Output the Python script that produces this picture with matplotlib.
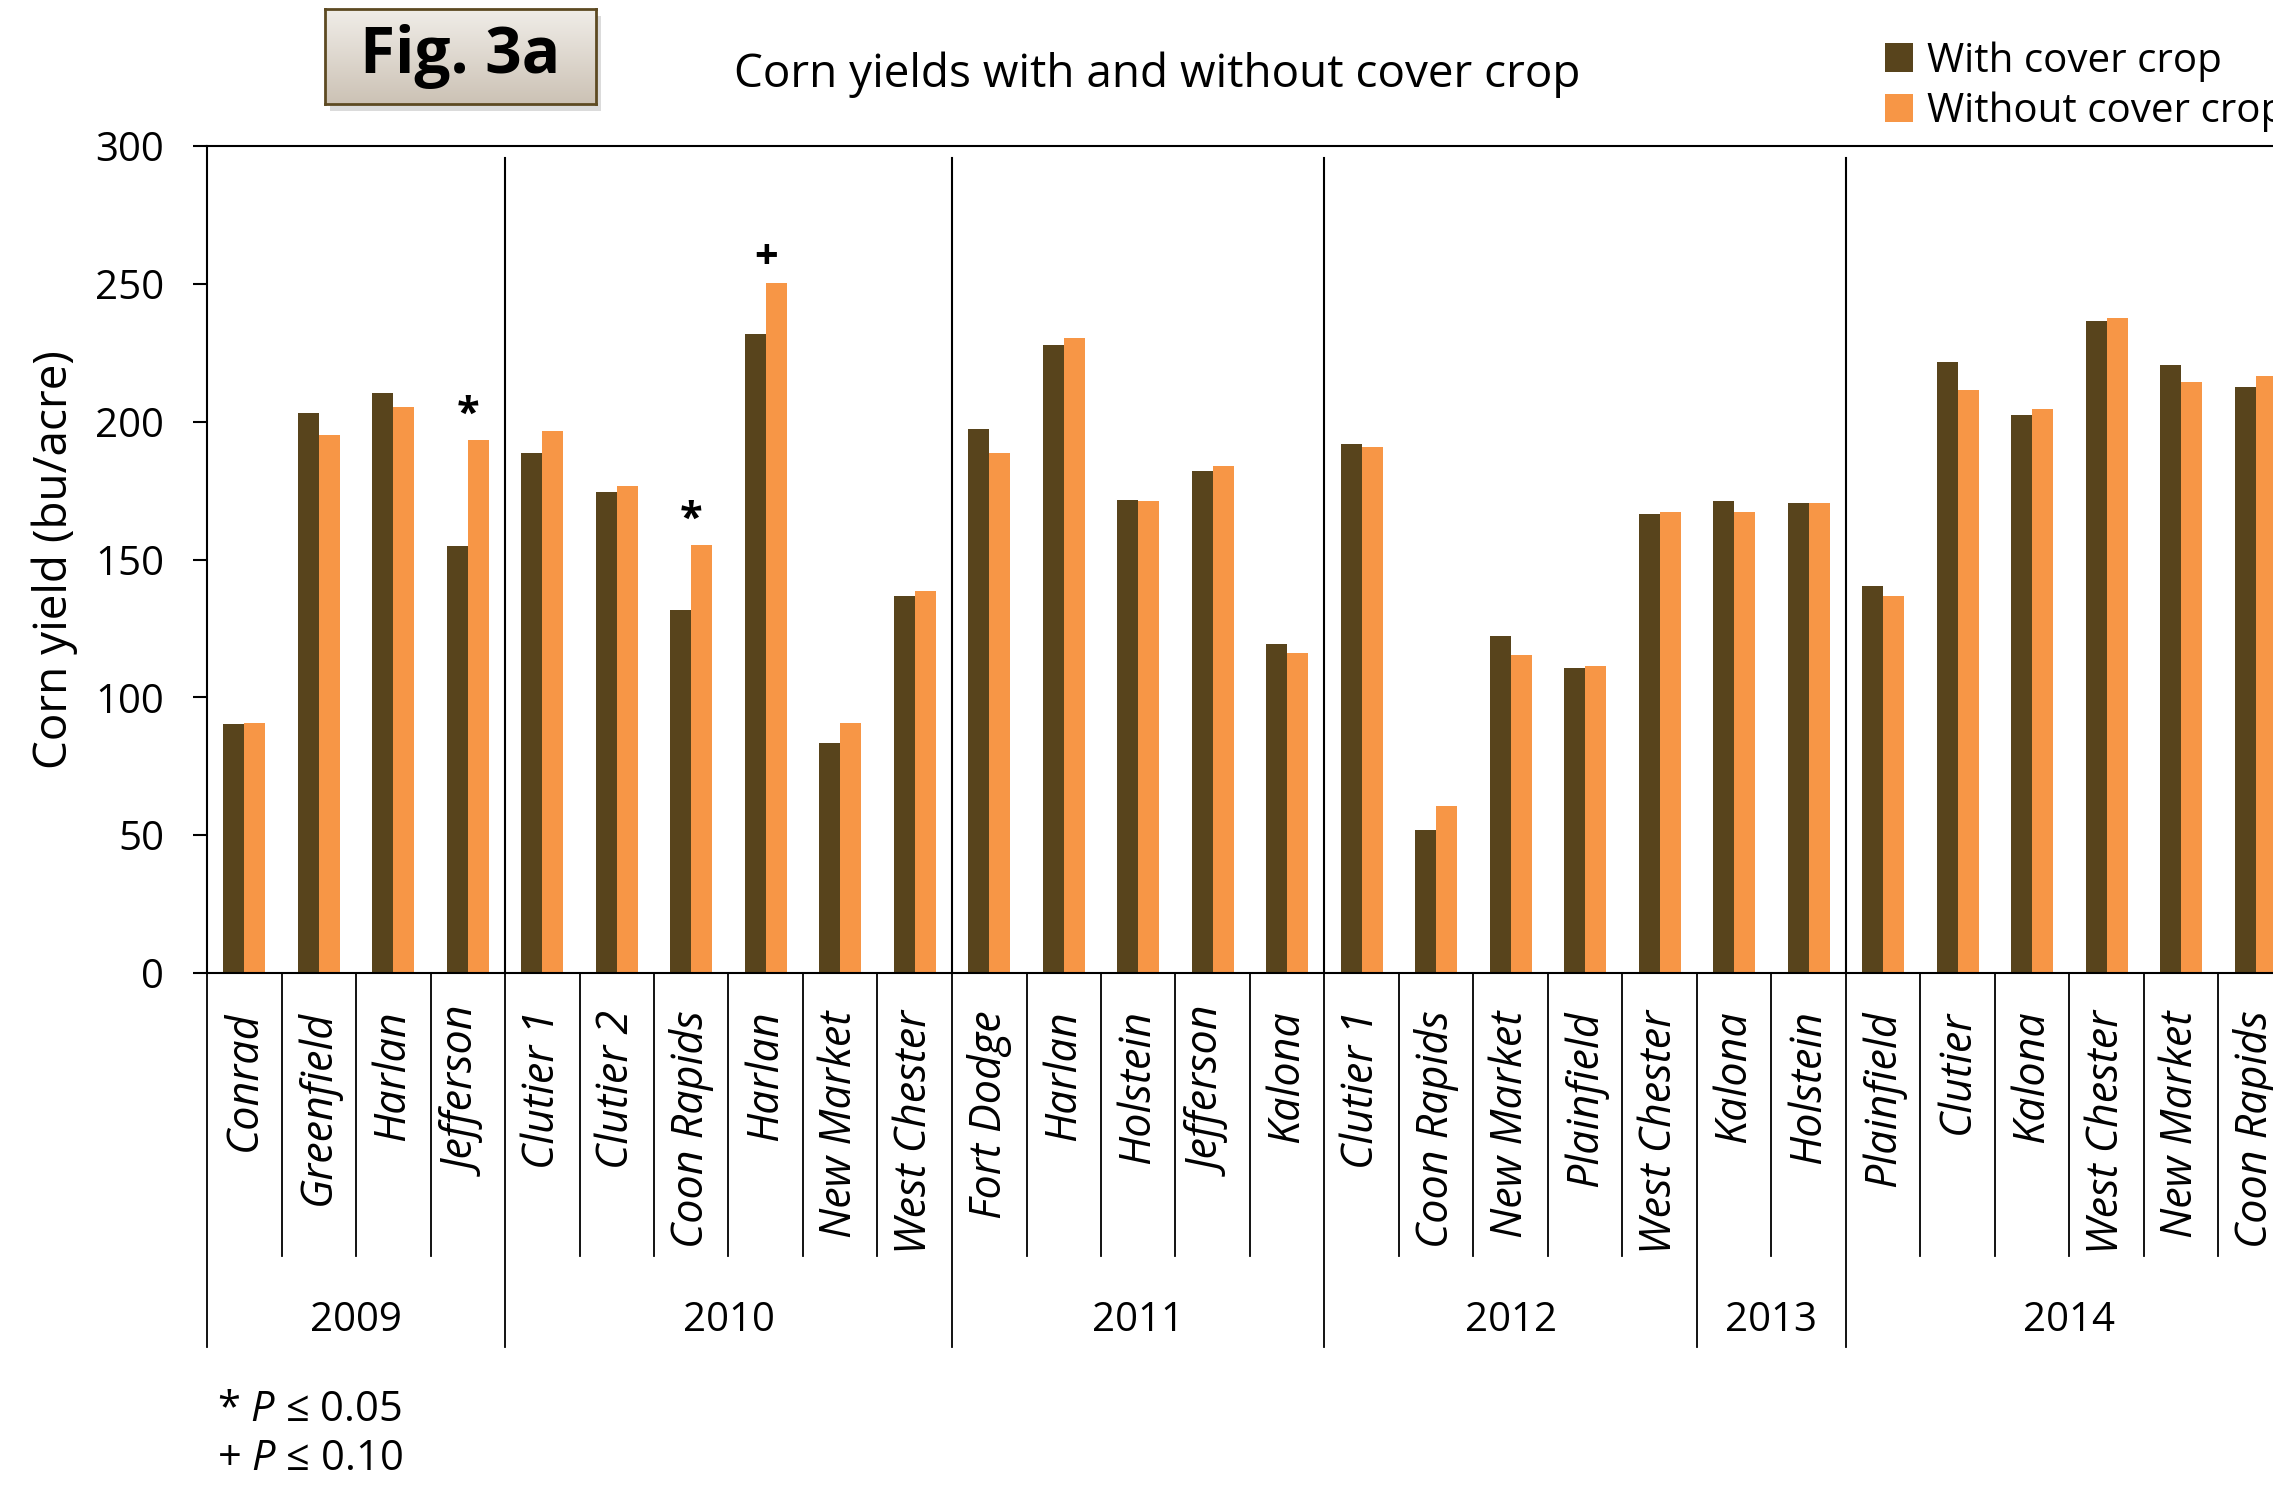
import numpy as np
import matplotlib.pyplot as plt
from matplotlib.patches import Rectangle
from matplotlib.colors import LinearSegmentedColormap

plt.rcParams['font.family'] = ['Open Sans', 'DejaVu Sans']
plt.rcParams['mathtext.fontset'] = 'custom'
plt.rcParams['mathtext.it'] = 'Open Sans:italic'
plt.rcParams['mathtext.rm'] = 'Open Sans'

# ---- data ----
years = ['2009', '2010', '2011', '2012', '2013', '2014']
sites = [
    ['Conrad', 'Greenfield', 'Harlan', 'Jefferson'],
    ['Clutier 1', 'Clutier 2', 'Coon Rapids', 'Harlan', 'New Market', 'West Chester'],
    ['Fort Dodge', 'Harlan', 'Holstein', 'Jefferson', 'Kalona'],
    ['Clutier 1', 'Coon Rapids', 'New Market', 'Plainfield', 'West Chester'],
    ['Kalona', 'Holstein'],
    ['Plainfield', 'Clutier', 'Kalona', 'West Chester', 'New Market', 'Coon Rapids'],
]
with_cc = [90.3, 203.0, 210.4, 154.8,
           188.6, 174.6, 131.5, 231.9, 83.6, 136.6,
           197.2, 227.8, 171.7, 182.2, 119.2,
           191.9, 51.9, 122.4, 110.6, 166.5,
           171.1, 170.6,
           140.5, 221.7, 202.5, 236.4, 220.6, 212.5]
without_cc = [90.8, 195.1, 205.3, 193.3,
              196.5, 176.8, 155.1, 250.2, 90.8, 138.4,
              188.6, 230.5, 171.3, 184.0, 116.0,
              190.7, 60.6, 115.3, 111.3, 167.1,
              167.3, 170.4,
              136.6, 211.6, 204.6, 237.5, 214.4, 216.7]
signif = ['', '', '', '*',
          '', '', '*', '+', '', '',
          '', '', '', '', '',
          '', '', '', '', '',
          '', '',
          '', '', '', '', '', '']
# years whose left edge gets a divider across the plot area
plot_dividers = ['2010', '2011', '2012', '2014']

BROWN = '#58441c'
ORANGE = '#f79646'
FS = 28

labels = [s for grp in sites for s in grp]
n = len(labels)
x = np.arange(n) + 0.5
w = 0.28

fig = plt.figure(figsize=(22.73, 14.87), dpi=100)
ax = fig.add_axes([207 / 2273, 1 - 973 / 1487, 2086 / 2273, 827 / 1487])

b1 = ax.bar(x - w / 2, with_cc, w, color=BROWN, label='With cover crop')
b2 = ax.bar(x + w / 2, without_cc, w, color=ORANGE, label='Without cover crop')

for xi, a, b, s in zip(x, with_cc, without_cc, signif):
    if s:
        ax.text(xi, max(a, b) + 9, s, ha='center', va='center',
                fontsize=30, fontweight='bold')

ax.set_xlim(0, n)
ax.set_ylim(0, 300)
ax.set_yticks(np.arange(0, 301, 50))
ax.tick_params(axis='y', labelsize=29, length=10, width=1.5, pad=21, direction='out')
ax.set_xticks([])
for side in ['left', 'bottom', 'top']:
    ax.spines[side].set_linewidth(1.5)
ax.spines['right'].set_visible(False)

ax.set_ylabel('Corn yield (bu/acre)', fontsize=33)
ax.yaxis.set_label_coords(-0.0618, 0.5)

# group separators and labels below the axis
tr = ax.get_xaxis_transform()
start = 0
for yr, grp in zip(years, sites):
    ax.plot([start, start], [0, -0.452], transform=tr, color='black', lw=1.3, clip_on=False)
    if yr in plot_dividers:
        ax.plot([start, start], [0, 0.985], transform=tr, color='black', lw=1.5, clip_on=False)
    for k in range(1, len(grp)):
        ax.plot([start + k, start + k], [0, -0.342], transform=tr, color='black',
                lw=1.3, clip_on=False)
    for k, name in enumerate(grp):
        ax.text(start + k + 0.5, -0.045, name, transform=tr, rotation=90,
                ha='center', va='top', fontsize=31, style='italic')
    ax.text(start + len(grp) / 2, -0.421, yr, transform=tr, ha='center', va='center',
            fontsize=29)
    start += len(grp)
ax.plot([start, start], [0, -0.452], transform=tr, color='black', lw=1.3, clip_on=False)

# title, legend
fig.text(0.509, 0.950, 'Corn yields with and without cover crop', ha='center',
         va='center', fontsize=33)
fig.legend(handles=[b1, b2], loc='upper left', bbox_to_anchor=(1885 / 2273, 1 - 41 / 1487),
           frameon=False, fontsize=29, handlelength=0.7, handleheight=0.7,
           handletextpad=0.35, labelspacing=0.25, borderpad=0, borderaxespad=0)

# "Fig. 3a" badge with gradient and shadow
bx, by, bw, bh = 325 / 2273, 1 - 104 / 1487, 271 / 2273, 95 / 1487
fig.patches.append(Rectangle((bx + 5 / 2273, by - 7 / 1487), bw, bh, transform=fig.transFigure,
                             facecolor='#999999', alpha=0.35, edgecolor='none', zorder=-1))
bax = fig.add_axes([bx, by, bw, bh])
grad = np.linspace(0, 1, 100).reshape(-1, 1)
bax.imshow(grad, aspect='auto', extent=[0, 1, 0, 1],
           cmap=LinearSegmentedColormap.from_list('g', ['#f0ede8', '#ccc2b5']))
bax.set_xticks([])
bax.set_yticks([])
for sp in bax.spines.values():
    sp.set_color('#5d4a22')
    sp.set_linewidth(2)
bax.text(0.5, 0.5, 'Fig. 3a', ha='center', va='center', fontsize=46,
         fontweight='bold', transform=bax.transAxes)

# footnotes
fig.text(217 / 2273, 1 - 1410 / 1487, '* $P$ ≤ 0.05', fontsize=30, va='center')
fig.text(217 / 2273, 1 - 1459 / 1487, '+ $P$ ≤ 0.10', fontsize=30, va='center')

fig.savefig('out.png', dpi=100)
